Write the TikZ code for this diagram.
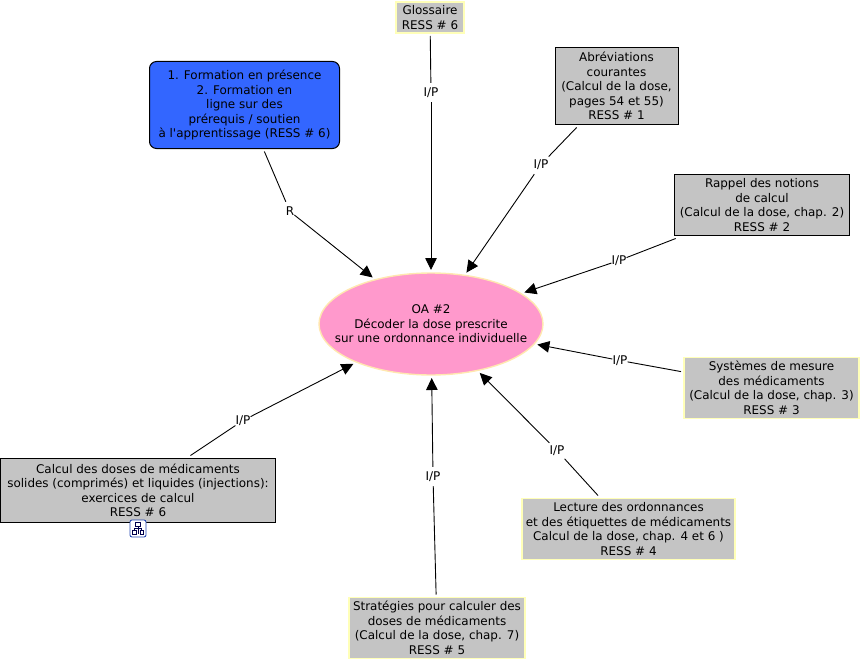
\documentclass[tikz,border=0pt]{standalone}
\usepackage{fontspec}
\setmainfont{DejaVu Sans}
\usetikzlibrary{arrows.meta,shapes.geometric}
\definecolor{boxgrey}{HTML}{C4C4C4}
\definecolor{paleedge}{HTML}{FFFFB8}
\definecolor{bluefill}{HTML}{3366FF}
\definecolor{pinkfill}{HTML}{FF99CC}
\definecolor{pinkedge}{HTML}{FFE8B0}
\tikzset{
  x=1pt,y=-1pt,
  txt/.style={align=center,font=\fontsize{11.95}{14.5}\selectfont,text=black,inner sep=0pt,outer sep=3pt},
  greybox/.style={txt,rectangle,fill=boxgrey,draw=black,line width=1pt},
  palebox/.style={txt,rectangle,fill=boxgrey,draw=paleedge,line width=1.6pt},
  link/.style={font=\fontsize{12}{14}\selectfont,fill=white,inner sep=0pt,minimum height=19pt,minimum width=5pt,text=black},
  conn/.style={draw=black,line width=0.9pt},
  arrow/.style={conn,-{Triangle[length=12pt,width=11.5pt]}},
}
\begin{document}
\begin{tikzpicture}
\useasboundingbox (0,0) rectangle (860,661);
\node[txt,ellipse,fill=pinkfill,draw=pinkedge,line width=1.4pt,minimum width=224pt,minimum height=102pt,inner xsep=-30pt,inner ysep=0pt] (oa) at (431,324) {OA \#2\\Décoder la dose prescrite\\sur une ordonnance individuelle};
\node[palebox,minimum width=68pt,minimum height=31pt] (gloss) at (430,17.5) {Glossaire\\RESS \# 6};
\node[greybox,minimum width=123pt,minimum height=77pt] (abrev) at (616.5,86) {Abréviations\\courantes\\(Calcul de la dose,\\pages 54 et 55)\\RESS \# 1};
\node[greybox,minimum width=175pt,minimum height=61pt] (rappel) at (762,205) {Rappel des notions\\de calcul\\(Calcul de la dose, chap. 2)\\RESS \# 2};
\node[palebox,minimum width=175pt,minimum height=61pt] (syst) at (771.5,388) {Systèmes de mesure\\des médicaments\\(Calcul de la dose, chap. 3)\\RESS \# 3};
\node[palebox,minimum width=213pt,minimum height=61pt] (lect) at (628.5,529) {Lecture des ordonnances\\et des étiquettes de médicaments\\Calcul de la dose, chap. 4 et 6 )\\RESS \# 4};
\node[palebox,minimum width=176pt,minimum height=61pt] (strat) at (437,628) {Stratégies pour calculer des\\doses de médicaments\\(Calcul de la dose, chap. 7)\\RESS \# 5};
\node[greybox,minimum width=275pt,minimum height=64pt] (calc) at (138,490.5) {Calcul des doses de médicaments\\solides (comprimés) et liquides (injections):\\exercices de calcul\\RESS \# 6};
\node[txt,rectangle,rounded corners=7pt,fill=bluefill,draw=black,line width=1pt,minimum width=190pt,minimum height=87pt] (form) at (244.5,105) {1. Formation en présence\\2. Formation en\\ligne sur des\\prérequis / soutien\\à l\textquotesingle apprentissage (RESS \# 6)};

\node[link] (lr) at (290,211.5) {R};
\node[link] (l1) at (431,92.5) {I/P};
\node[link] (l2) at (541,164.5) {I/P};
\node[link] (l3) at (619,260.5) {I/P};
\node[link] (l4) at (620,360.5) {I/P};
\node[link] (l5) at (557,450.5) {I/P};
\node[link] (l6) at (433,476.5) {I/P};
\node[link] (l7) at (243,420.5) {I/P};

\draw[conn] (form) -- (lr);  \draw[arrow] (lr) -- (oa);
\draw[conn] (gloss) -- (l1); \draw[arrow] (l1) -- (oa);
\draw[conn] (abrev) -- (l2); \draw[arrow] (l2) -- (oa);
\draw[conn] (rappel) -- (l3);\draw[arrow] (l3) -- (oa);
\draw[conn] (syst) -- (l4);  \draw[arrow] (l4) -- (oa);
\draw[conn] (lect) -- (l5);  \draw[arrow] (l5) -- (oa);
\draw[conn] (strat) -- (l6); \draw[arrow] (l6) -- (oa);
\draw[conn] (calc) -- (l7);  \draw[arrow] (l7) -- (oa);

% hierarchy icon
\draw[draw=bluefill!70!black,fill=white,line width=0.9pt,rounded corners=2pt] (130,520) rectangle (146,537);
\draw[black!70!blue,line width=0.7pt] (135.5,522.5) rectangle (140.5,526) (132.5,530.5) rectangle (136,534) (140,530.5) rectangle (143.5,534) (138,526) -- (138,534) (134.2,530.5) -- (134.2,528) -- (141.8,528) -- (141.8,530.5);
\end{tikzpicture}
\end{document}
